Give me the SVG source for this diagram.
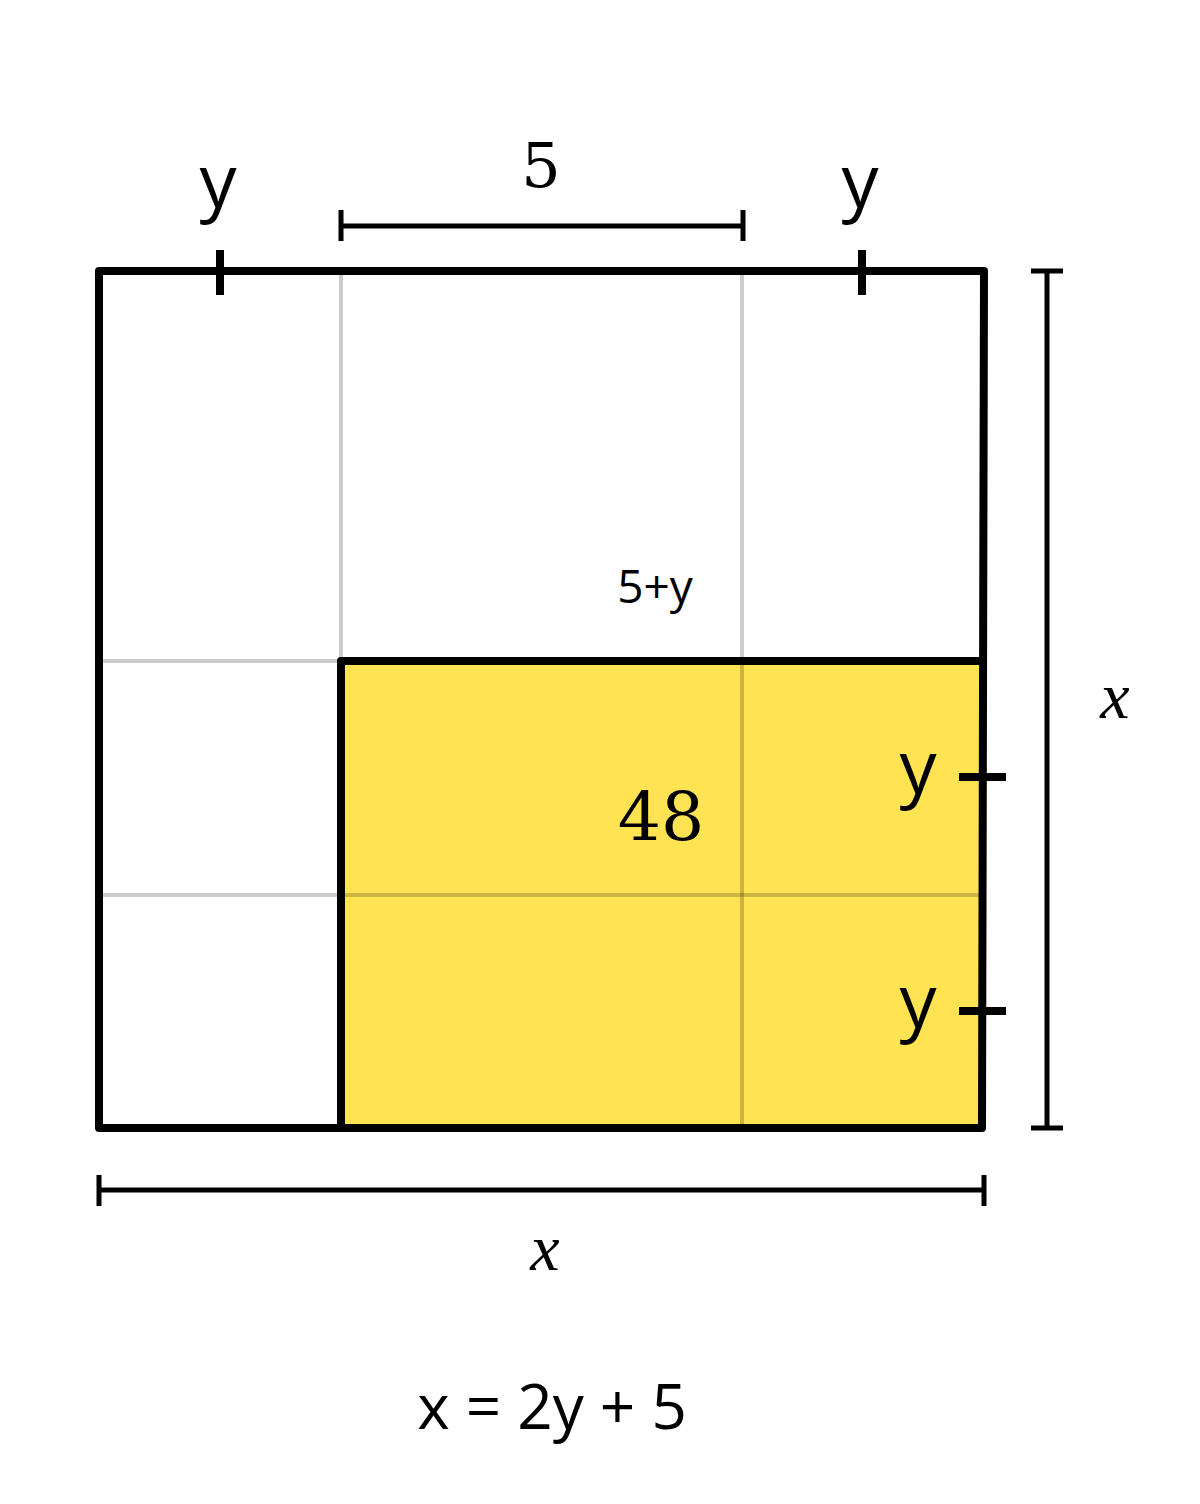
<svg xmlns="http://www.w3.org/2000/svg" width="1200" height="1504" viewBox="0 0 1200 1504">
<style>
.thick{stroke:#000;stroke-width:8;fill:none;stroke-linecap:round;stroke-linejoin:round}
.tick{stroke:#000;stroke-width:8;fill:none;stroke-linecap:butt}
.dim{stroke:#000;stroke-width:5;fill:none}
.grid{stroke:#000;stroke-opacity:0.2;stroke-width:4}
.sans{font-family:"Open Sans","Liberation Sans",sans-serif;fill:#000}
.serif{font-family:"DejaVu Serif","Liberation Serif",serif;fill:#000}
.it{font-family:"Liberation Serif","DejaVu Serif",serif;font-style:italic;fill:#000}
</style>
<rect width="1200" height="1504" fill="#fff"/>
<g id="yellow-region">
<rect x="341" y="661" width="641" height="467" fill="#FFE352"/>
</g>
<g id="grid">
<line class="grid" x1="341" y1="275" x2="341" y2="661"/>
<line class="grid" x1="742" y1="275" x2="742" y2="1124"/>
<line class="grid" x1="103" y1="661" x2="341" y2="661"/>
<line class="grid" x1="103" y1="895" x2="980" y2="895"/>
</g>
<g id="outer-square">
<path class="thick" d="M99,271 H984 L982,1128 H99 Z"/>
<path class="thick" d="M341,1128 V661 H982"/>
</g>
<g id="connectors">
<line class="tick" x1="220" y1="250" x2="220" y2="295"/>
<line class="tick" x1="862" y1="250" x2="862" y2="295"/>
<line class="tick" x1="959" y1="777" x2="1006" y2="777"/>
<line class="tick" x1="959" y1="1011" x2="1006" y2="1011"/>
<path class="dim" d="M341,226 H743 M341,210 V241 M743,210 V241"/>
<path class="dim" d="M1047,271 V1128 M1031,271 H1063 M1031,1128 H1063"/>
<path class="dim" d="M99,1190 H984 M99,1175 V1206 M984,1175 V1206"/>
</g>
<g id="labels">
<text class="sans" x="218" y="207" font-size="74" text-anchor="middle">y</text>
<text class="sans" x="860" y="207" font-size="74" text-anchor="middle">y</text>
<text class="sans" x="918" y="793" font-size="74" text-anchor="middle">y</text>
<text class="sans" x="918" y="1027" font-size="74" text-anchor="middle">y</text>
<text class="serif" x="541" y="187" font-size="62" text-anchor="middle">5</text>
<text class="sans" x="655" y="603" font-size="46" text-anchor="middle">5+y</text>
<text class="serif" x="661" y="840" font-size="68" text-anchor="middle">48</text>
<text class="it" x="1115" y="718" font-size="66" text-anchor="middle">x</text>
<text class="it" x="545" y="1270" font-size="66" text-anchor="middle">x</text>
<text class="sans" x="552" y="1429" font-size="62" text-anchor="middle">x = 2y + 5</text>
</g>
</svg>
